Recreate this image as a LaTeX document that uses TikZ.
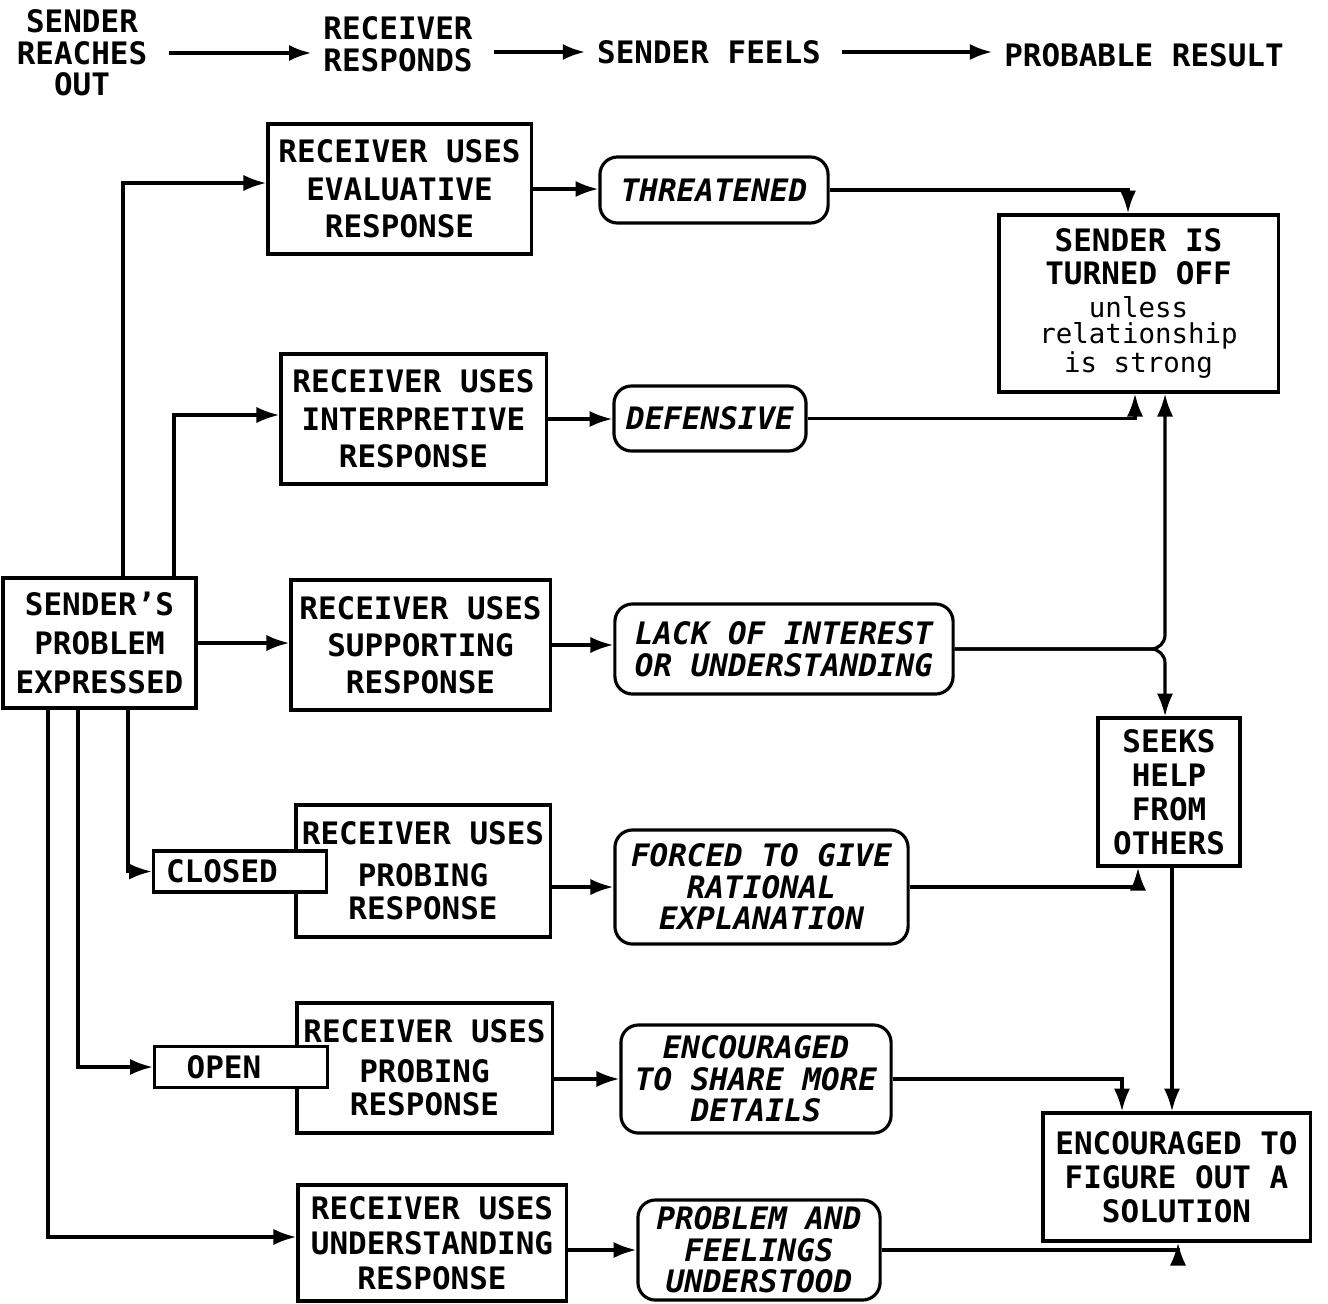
\documentclass[tikz,border=0pt]{standalone}
\usepackage{fontspec}
\setmainfont{DejaVu Sans Mono}
\usepackage{tikz}
\usetikzlibrary{arrows.meta,positioning,shapes}
\tikzstyle{resp}=[
	rectangle,
	draw=black,
	align=center,
	inner sep=0,
	font=\bfseries\fontsize{8.8}{10.6}\selectfont]
\tikzstyle{feel}=[
	rectangle,
	rounded corners=5,
	draw=black,
	align=center,
	inner sep=0,
	font=\bfseries\itshape\fontsize{8.8}{9}\selectfont]
\tikzstyle{result}=[
	rectangle,
	draw=black,
	align=center,
	inner sep=0,
	font=\bfseries\fontsize{8.8}{9.7}\selectfont]
\tikzstyle{kind}=[
	rectangle,
	draw=black,
	fill=white,
	inner sep=0,
	minimum width=1.73cm,
	minimum height=0.41cm,
	font=\bfseries\fontsize{8.8}{10}\selectfont]
\tikzstyle{head}=[
	inner xsep=0.1cm,
	align=center,
	font=\bfseries\fontsize{8.8}{9}\selectfont]
\newcommand{\lowtxt}[1]{{\mdseries\fontsize{7.8}{9.4}\selectfont #1}}
\newcommand{\tightlines}{\lineskiplimit=-6pt\relax}

\begin{document}
\begin{tikzpicture}[x=0.01cm,y=-0.01cm,>={Latex[length=6.5pt,width=4.6pt]},line width=0.9pt]
	\useasboundingbox (0,0) rectangle (1328,1303);
	% header row
	\node[head] (h1) at (82,53) {SENDER\\REACHES\\OUT};
	\node[head] (h2) at (398,44) {RECEIVER\\RESPONDS};
	\node[head] (h3) at (709,52) {SENDER FEELS};
	\node[head] (h4) at (1144,55) {PROBABLE RESULT};
	\begin{scope}[line width=1.2pt,shorten <=0.1cm]
		\draw[->] (h1.east) -- (h1.east -| h2.west);
		\draw[->] (h3.west -| h2.east) -- (h3.west);
		\draw[->] (h3.east) -- (h3.east -| h4.west);
	\end{scope}
	% receiver responses
	\node[resp,minimum width=2.63cm,minimum height=1.30cm] (eval) at (399.5,189) {RECEIVER USES\\EVALUATIVE\\RESPONSE};
	\node[resp,minimum width=2.65cm,minimum height=1.30cm] (interp) at (413.5,419) {RECEIVER USES\\INTERPRETIVE\\RESPONSE};
	\node[resp,minimum width=1.93cm,minimum height=1.30cm,font=\bfseries\fontsize{8.8}{11}\selectfont] (sender) at (99.5,643) {SENDER'S\\PROBLEM\\EXPRESSED};
	\node[resp,minimum width=2.59cm,minimum height=1.30cm] (support) at (420.5,645) {RECEIVER USES\\SUPPORTING\\RESPONSE};
	\node[resp,minimum width=2.54cm,minimum height=1.32cm,font=\bfseries\fontsize{8.8}{9.4}\selectfont] (probc) at (423,871) {RECEIVER USES\\[2.5pt]PROBING\\RESPONSE};
	\node[kind] (closed) at (240,871.5) {CLOSED\rule{0.36cm}{0pt}};
	\node[resp,minimum width=2.55cm,minimum height=1.30cm,font=\bfseries\fontsize{8.8}{9.4}\selectfont] (probo) at (424.5,1068) {RECEIVER USES\\[2pt]PROBING\\RESPONSE};
	\node[kind] (open) at (241,1067) {OPEN\rule{0.34cm}{0pt}};
	\node[resp,minimum width=2.68cm,minimum height=1.16cm,font=\bfseries\fontsize{8.8}{10}\selectfont] (underst) at (432,1243) {RECEIVER USES\\UNDERSTANDING\\RESPONSE};
	% sender feels
	\node[feel,minimum width=2.28cm,minimum height=0.66cm] (threat) at (714,190) {THREATENED};
	\node[feel,minimum width=1.92cm,minimum height=0.65cm] (defens) at (710,418.5) {DEFENSIVE};
	\node[feel,minimum width=3.38cm,minimum height=0.90cm] (lack) at (784,649) {LACK OF INTEREST\\OR UNDERSTANDING};
	\node[feel,minimum width=2.93cm,minimum height=1.14cm] (forced) at (761.5,887) {FORCED TO GIVE\\RATIONAL\\EXPLANATION};
	\node[feel,minimum width=2.70cm,minimum height=1.08cm] (share) at (756,1079) {ENCOURAGED\\TO SHARE MORE\\DETAILS};
	\node[feel,minimum width=2.42cm,minimum height=1.00cm] (problem) at (759,1250) {PROBLEM AND\\FEELINGS\\UNDERSTOOD};
	% probable results
	\node[result,minimum width=2.79cm,minimum height=1.77cm,font=\bfseries\fontsize{8.8}{9.4}\selectfont] (off) at (1138.5,303.5)
		{\tightlines SENDER IS\\TURNED OFF\\\lowtxt{unless}\\[-2pt]\lowtxt{relationship}\\[-1pt]\lowtxt{is strong}};
	\node[result,minimum width=1.42cm,minimum height=1.48cm] (seek) at (1169,792) {SEEKS\\HELP\\FROM\\OTHERS};
	\node[result,minimum width=2.67cm,minimum height=1.28cm] (fig) at (1176.5,1177) {ENCOURAGED TO\\FIGURE OUT A\\SOLUTION};
	% sender to receiver
	\draw[->] ([xshift=0.235cm]sender.north) |- ([yshift=0.06cm]eval.west);
	\draw[->] ([xshift=0.745cm]sender.north) |- ([yshift=0.04cm]interp.west);
	\draw[->] (sender.east) -- (sender.east -| support.west);
	\draw[->] ([xshift=0.285cm]sender.south) |- (closed.west);
	\draw[->] ([xshift=-0.215cm]sender.south) |- (open.west);
	\draw[->] ([xshift=-0.515cm]sender.south) |- ([yshift=0.06cm]underst.west);
	% receiver to feelings
	\draw[->] (eval.east) -- (eval.east -| threat.west);
	\draw[->] (interp.east) -- (interp.east -| defens.west);
	\draw[->] (support.east) -- (support.east -| lack.west);
	\draw[->] (forced.west -| probc.east) -- (forced.west);
	\draw[->] (share.west -| probo.east) -- (share.west);
	\draw[->] (problem.west -| underst.east) -- (problem.west);
	% feelings to results
	\draw[->] (threat.east) -| ([xshift=-0.105cm]off.north);
	\draw[->] (defens.east) -| ([xshift=-0.035cm]off.south);
	\coordinate (up) at ([xshift=0.265cm]off.south);
	\draw[->,rounded corners=4pt] (lack.east) -| (up);
	\draw[->,rounded corners=4pt] (lack.east) -| (seek.north -| up);
	\draw[->] (forced.east) -| ([xshift=-0.31cm]seek.south);
	\draw[->] ([xshift=0.03cm]seek.south) -- ([xshift=0.03cm]seek.south |- fig.north);
	\draw[->] (share.east) -| ([xshift=-0.545cm]fig.north);
	\draw[->] (problem.east) -| ([xshift=0.015cm]fig.south);
\end{tikzpicture}
\end{document}
